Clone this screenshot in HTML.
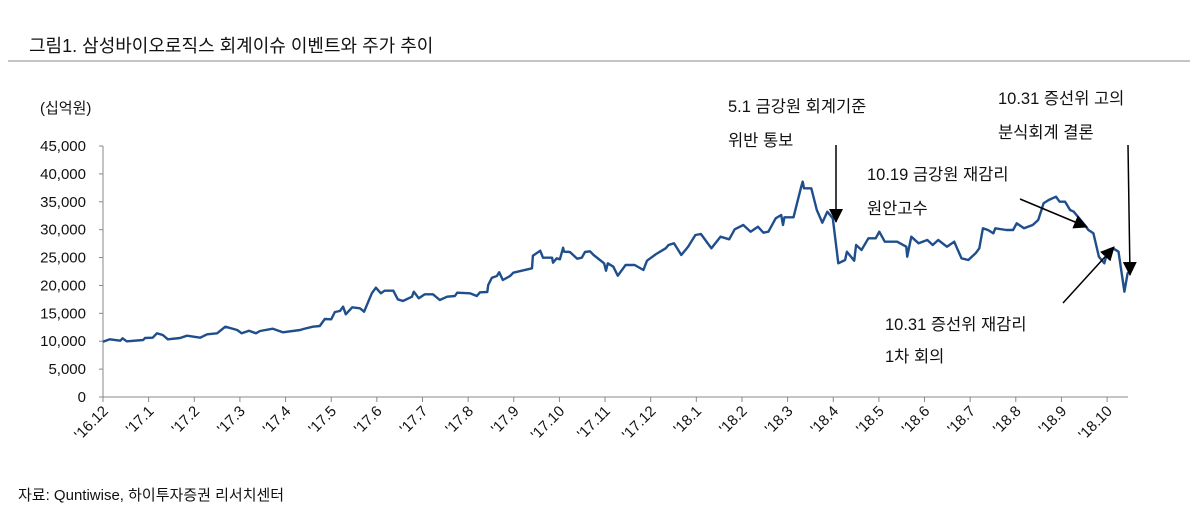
<!DOCTYPE html>
<html><head><meta charset="utf-8">
<style>
body{margin:0;background:#fff;width:1199px;height:522px;overflow:hidden;font-family:"Liberation Sans","Noto Sans CJK KR",sans-serif;}
svg text{font-family:"Liberation Sans","Noto Sans CJK KR",sans-serif;fill:#111;}
</style></head><body>
<svg id="chart" width="1199" height="522">
<text x="29" y="52" font-size="18">그림1. 삼성바이오로직스 회계이슈 이벤트와 주가 추이</text>
<line x1="8" y1="61" x2="1190" y2="61" stroke="#888" stroke-width="1"/>
<text x="40" y="113" font-size="15">(십억원)</text>
<g id="axes"></g>
<g id="series"></g>
<g id="annot" font-size="16.5">
<text x="728" y="112">5.1 금강원 회계기준</text>
<text x="728" y="146">위반 통보</text>
<text x="867" y="180">10.19 금강원 재감리</text>
<text x="867" y="214">원안고수</text>
<text x="885" y="330">10.31 증선위 재감리</text>
<text x="885" y="362">1차 회의</text>
<text x="998" y="104">10.31 증선위 고의</text>
<text x="998" y="138">분식회계 결론</text>
</g>
<defs>
<marker id="ahb" markerWidth="14" markerHeight="14" refX="13" refY="7" orient="auto" markerUnits="userSpaceOnUse" viewBox="0 0 14 14"><path d="M0,0 L14,7 L0,14 z" fill="#000"/></marker></defs>
<line x1="836" y1="145" x2="836" y2="222" stroke="#000" stroke-width="1.5" marker-end="url(#ahb)"/>
<line x1="1020" y1="199" x2="1087" y2="227" stroke="#000" stroke-width="1.5" marker-end="url(#ahb)"/>
<line x1="1063" y1="303" x2="1114" y2="247" stroke="#000" stroke-width="1.5" marker-end="url(#ahb)"/>
<line x1="1128" y1="145" x2="1130" y2="275" stroke="#000" stroke-width="1.5" marker-end="url(#ahb)"/>
<text x="18" y="500" font-size="15">자료: Quntiwise, 하이투자증권 리서치센터</text>
</svg>
<script>
const monthLabels=["'16.12","'17.1","'17.2","'17.3","'17.4","'17.5","'17.6","'17.7","'17.8","'17.9","'17.10","'17.11","'17.12","'18.1","'18.2","'18.3","'18.4","'18.5","'18.6","'18.7","'18.8","'18.9","'18.10"];
const yTicks=[0,5000,10000,15000,20000,25000,30000,35000,40000,45000];
const tMonths=[0,0.15,0.38,0.43,0.52,0.88,0.92,1.09,1.18,1.31,1.42,1.69,1.84,2.13,2.28,2.5,2.68,2.94,3.04,3.2,3.35,3.44,3.72,3.94,4.32,4.39,4.6,4.75,4.86,5.0,5.08,5.19,5.26,5.32,5.46,5.63,5.72,5.89,5.98,6.09,6.17,6.36,6.46,6.57,6.77,6.81,6.92,7.05,7.23,7.38,7.54,7.71,7.76,8.04,8.19,8.26,8.42,8.44,8.52,8.63,8.68,8.76,8.92,8.99,9.4,9.42,9.58,9.64,9.84,9.86,9.94,10.01,10.08,10.1,10.23,10.39,10.49,10.56,10.67,
10.75,10.98,11.02,11.06,11.18,11.28,11.45,11.65,11.84,11.92,12.12,12.33,12.39,12.51,12.67,12.82,12.98,13.1,13.33,13.53,13.72,13.84,14.03,14.19,14.35,14.47,14.58,14.74,14.86,14.9,14.93,15.13,15.29,15.33,15.36,15.52,15.64,15.76,15.87,15.99,16.11,16.26,16.3,16.46,16.5,16.62,16.77,16.93,17.01,17.13,17.4,17.6,17.62,17.71,17.87,18.06,18.18,18.3,18.49,18.65,18.81,18.96,19.12,19.2,19.28,19.39,19.51,19.55,19.79,19.94,20.02,20.18,20.37,20.49,20.61,20.72,20.88,20.96,21.08,21.19,21.27,21.39,21.51,21.59,21.7,21.82,21.94,22.02,22.13,22.25,22.38,22.45,22.53];
const marketCap=[9919,10337,10100,10518,9980,10218,10577,10637,11414,11115,10337,10577,10995,10637,11235,11414,12609,12011,11414,11892,11414,11832,12250,11593,12011,12190,12609,12728,13983,13924,15238,15418,16195,14820,16075,15896,15298,18585,19601,18585,19063,19063,17509,17210,17987,18884,17688,18405,18405,17390,17987,18107,18705,18585,18107,18765,18824,20080,21395,21693,22351,20976,21693,22291,23068,25339,26236,24981,24981,24084,24861,24682,26774,26056,25997,24801,24981,25997,26116,
25459,23965,22650,23965,23367,21753,23666,23666,22770,24443,25639,26655,27253,27552,25459,26954,29046,29225,26655,28747,28269,30062,30839,29643,30540,29464,29643,32034,32632,30839,32213,32213,37413,38609,37413,37413,33528,31257,33229,32034,23965,24563,26056,24443,27253,26357,28448,28448,29643,27850,27850,26954,25160,28747,27552,28149,27253,28149,26954,27850,24862,24563,25758,26655,30241,29942,29344,30241,29942,29942,31137,30241,30839,31735,34724,35321,35919,35022,35022,33528,33229,32034,30839,29942,29344,25160,23965,26356,26655,26056,18883,22172,22770];

const NS='http://www.w3.org/2000/svg';
const X0=103,MW=45.64,Y0=397,YTOP=146,YMAX=45000,XEND=1128;
const xs=t=>X0+t*MW;
const ys=v=>Y0-(v/YMAX)*(Y0-YTOP);
function mk(tag,attrs,parent){const e=document.createElementNS(NS,tag);for(const k in attrs)e.setAttribute(k,attrs[k]);parent.appendChild(e);return e;}
const axes=document.getElementById('axes');
const ya=mk('line',{x1:X0,y1:YTOP,x2:X0,y2:Y0,stroke:'#888','stroke-width':1},axes);


const xa=mk('line',{x1:X0,y1:Y0,x2:XEND,y2:Y0,stroke:'#888','stroke-width':1},axes);


yTicks.forEach(v=>{
  const y=ys(v);
  const tk=mk('line',{x1:X0-4,y1:y,x2:X0,y2:y,stroke:'#888'},axes);
  
  
  const tx=mk('text',{x:86,y:y+5,'font-size':15,'text-anchor':'end'},axes);
  tx.textContent=v.toLocaleString('en-US');
  
  
});
monthLabels.forEach((m,i)=>{
  const x=xs(i);
  const tk=mk('line',{x1:x,y1:Y0,x2:x,y2:Y0+5,stroke:'#888'},axes);
  
  
  const ax=x+6, ay=Y0+15;
  const tx=mk('text',{x:ax,y:ay,'font-size':15,'text-anchor':'end',transform:`rotate(-45 ${ax} ${ay})`},axes);
  tx.textContent=m;
  
  
});
const d=tMonths.map((t,i)=>(i?'L':'M')+xs(t).toFixed(1)+','+ys(marketCap[i]).toFixed(1)).join(' ');
const p=mk('path',{d:d,fill:'none',stroke:'#1f4e8c','stroke-width':2.4,'stroke-linejoin':'round'},document.getElementById('series'));


</script>
</body></html>
